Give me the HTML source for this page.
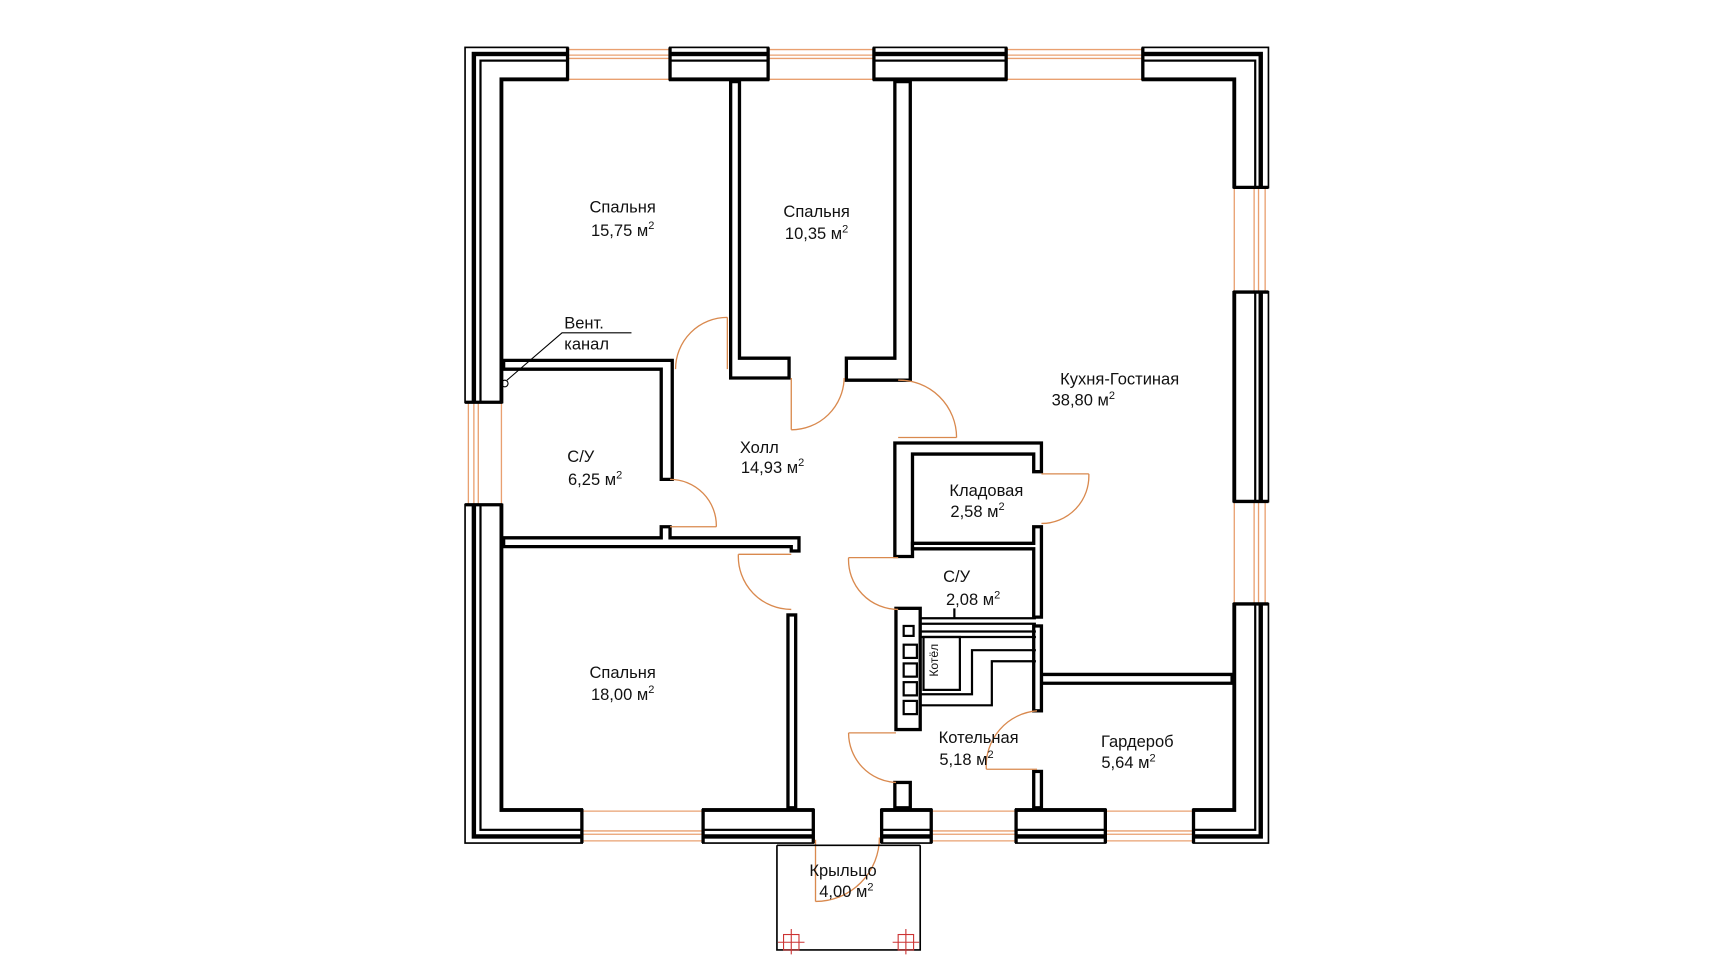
<!DOCTYPE html>
<html><head><meta charset="utf-8"><style>
html,body{margin:0;padding:0;background:#fff;}
svg{display:block;}
text{font-family:"Liberation Sans",sans-serif;font-size:15px;fill:#111;}
</style></head><body>
<svg width="1728" height="972" viewBox="0 0 1568 882" xmlns="http://www.w3.org/2000/svg">
<rect width="1568" height="882" fill="#fff"/>
<!-- exterior walls -->
<g fill="none" stroke="#000">
<rect x="422" y="43" width="729" height="722" stroke-width="1.5"/>
<rect x="430" y="49" width="714" height="710" stroke-width="4"/>
<rect x="436" y="55" width="703" height="698" stroke-width="2"/>
<rect x="455" y="72" width="665" height="663" stroke-width="3.5"/>
</g>
<!-- window openings -->
<g fill="#fff">
<rect x="516" y="38" width="91" height="37"/>
<rect x="698" y="38" width="94" height="37"/>
<rect x="914" y="38" width="122" height="37"/>
<rect x="529" y="732" width="108" height="37"/>
<rect x="739" y="732" width="60" height="37"/>
<rect x="846" y="732" width="75" height="37"/>
<rect x="1004" y="732" width="78" height="37"/>
<rect x="418" y="366" width="40" height="91"/>
<rect x="1117" y="171" width="38" height="93"/>
<rect x="1117" y="456" width="38" height="91"/>
</g>
<g stroke="#e9a070" stroke-width="1.2">
<path d="M516 45H607M516 50H607M516 53H607M516 72H607"/>
<path d="M698 45H792M698 50H792M698 53H792M698 72H792"/>
<path d="M914 45H1036M914 50H1036M914 53H1036M914 72H1036"/>
<path d="M529 736H637M529 754H637M529 757H637M529 763H637"/>
<path d="M846 736H921M846 754H921M846 757H921M846 763H921"/>
<path d="M1004 736H1082M1004 754H1082M1004 757H1082M1004 763H1082"/>
<path d="M425 366V457M430 366V457M434 366V457M455 366V457"/>
<path d="M1120 171V264M1138 171V264M1142 171V264M1148 171V264"/>
<path d="M1120 456V547M1138 456V547M1142 456V547M1148 456V547"/>
</g>
<g stroke="#000" stroke-width="3">
<path d="M515 43V73M608 43V73M697 43V73M793 43V73M913 43V73M1037 43V73"/>
<path d="M528 734V765M638 734V765M738 734V765M800 734V765M845 734V765M922 734V765M1003 734V765M1083 734V765"/>
<path d="M422 365H456M422 458H456M1119 170H1151M1119 265H1151M1119 455H1151M1119 548H1151"/>
</g>
<!-- interior walls -->
<g fill="#fff" stroke="#000" stroke-width="3">
<path d="M663 74H671V325H716V343H663Z"/>
<path d="M812 74H826V345H768V325H812Z"/>
<path d="M457 327H610V435H600V335H457Z"/>
<path d="M457 488H600V478H608V488H725V500H718V496H457Z"/>
<rect x="715" y="558" width="7" height="175"/>
<path d="M812 402H945V428H938V412H828V505H812Z"/>
<path d="M828 493H938V478H945V560H938V498H828Z"/>
<path d="M945 612H1118V620H945Z"/>
<rect x="938" y="568" width="7" height="77"/>
<rect x="938" y="700" width="7" height="33"/>
<rect x="812" y="710" width="14" height="23"/>
<rect x="813" y="552" width="22" height="110"/>
</g>
<!-- boiler room details -->
<g fill="none" stroke="#000" stroke-width="2">
<path d="M835 561H940M835 566H940"/>
<path d="M835 573H940M835 578H940"/>
<rect x="820" y="568" width="9" height="9"/>
<rect x="820" y="585" width="12" height="12"/>
<rect x="820" y="602" width="12" height="12"/>
<rect x="820" y="619" width="12" height="12"/>
<rect x="820" y="636" width="12" height="12"/>
<rect x="838" y="578" width="33" height="48"/>
<path d="M835 630H882V590H940M835 640H900V600H940M866 552V561"/>
</g>
<text x="0" y="0" font-size="11" transform="translate(851 614) rotate(-90)" style="font-size:11px">Котёл</text>
<!-- doors -->
<g fill="none" stroke="#d9894e" stroke-width="1.2">
<path d="M660 288V335M660 288A47 47 0 0 0 613 335"/>
<path d="M718 343V390M718 390A48 48 0 0 0 766 343"/>
<path d="M815 397H868M815 345A52 52 0 0 1 868 397"/>
<path d="M608 478H650M608 435A42 42 0 0 1 650 478"/>
<path d="M670 503H718M670 503A48 48 0 0 0 718 553"/>
<path d="M945 430H988M988 430A43 43 0 0 1 945 475"/>
<path d="M770 506H815M770 506A45 45 0 0 0 815 553"/>
<path d="M770 665H813M770 665A45 45 0 0 0 813 710"/>
<path d="M895 698H941M941 645A50 50 0 0 0 895 698"/>
<path d="M740 762V818M740 818A58 58 0 0 0 798 760"/>
</g>
<!-- porch -->
<g fill="none" stroke="#000" stroke-width="1.5">
<path d="M705 767V862H835V767M705 767H835"/>
</g>
<g stroke="#c33" stroke-width="1" fill="none">
<rect x="711" y="848" width="14" height="14"/><path d="M706 855H730M718 843V866"/>
<rect x="815" y="848" width="14" height="14"/><path d="M810 855H834M822 843V866"/>
</g>
<!-- vent -->
<g fill="none" stroke="#000" stroke-width="1">
<circle cx="458" cy="348" r="3"/><path d="M460 345L510 302H573"/>
</g>
<text x="512" y="298">Вент.</text><text x="512" y="317">канал</text>
<!-- labels -->
<g text-anchor="middle">
<text x="565" y="193">Спальня</text><text x="565" y="214">15,75 м<tspan dy="-6" style="font-size:10px">2</tspan></text>
<text x="741" y="197">Спальня</text><text x="741" y="217">10,35 м<tspan dy="-6" style="font-size:10px">2</tspan></text>
<text x="1016" y="349">Кухня-Гостиная</text><text x="983" y="368">38,80 м<tspan dy="-6" style="font-size:10px">2</tspan></text>
<text x="689" y="411">Холл</text><text x="701" y="429">14,93 м<tspan dy="-6" style="font-size:10px">2</tspan></text>
<text x="527" y="419">С/У</text><text x="540" y="440">6,25 м<tspan dy="-6" style="font-size:10px">2</tspan></text>
<text x="895" y="450">Кладовая</text><text x="887" y="469">2,58 м<tspan dy="-6" style="font-size:10px">2</tspan></text>
<text x="868" y="528">С/У</text><text x="883" y="549">2,08 м<tspan dy="-6" style="font-size:10px">2</tspan></text>
<text x="565" y="615">Спальня</text><text x="565" y="635">18,00 м<tspan dy="-6" style="font-size:10px">2</tspan></text>
<text x="888" y="674">Котельная</text><text x="877" y="694">5,18 м<tspan dy="-6" style="font-size:10px">2</tspan></text>
<text x="1032" y="678">Гардероб</text><text x="1024" y="697">5,64 м<tspan dy="-6" style="font-size:10px">2</tspan></text>
<text x="765" y="795">Крыльцо</text><text x="768" y="814">4,00 м<tspan dy="-6" style="font-size:10px">2</tspan></text>
</g>
</svg>
</body></html>
